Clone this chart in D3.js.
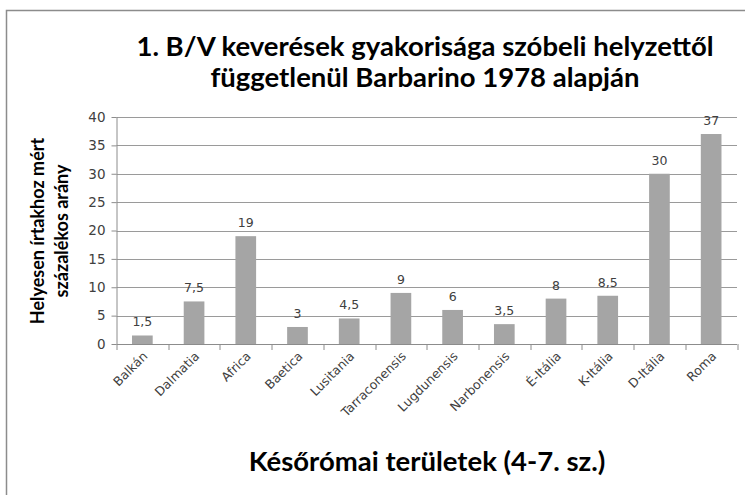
<!DOCTYPE html>
<html>
<head>
<meta charset="utf-8">
<script src="https://cdn.jsdelivr.net/npm/d3@7"></script>
<style>
  body { margin: 0; background: #fff; }
  svg { display: block; }
</style>
</head>
<body>
<script>
var width = 745;
var height = 495;

// adatok
var regions = ["Balkán", "Dalmatia", "Africa", "Baetica", "Lusitania", "Tarraconensis",
  "Lugdunensis", "Narbonensis", "É-Itália", "K-Itália", "D-Itália", "Roma"];
var values = [1.5, 7.5, 19, 3, 4.5, 9, 6, 3.5, 8, 8.5, 30, 37];
var yTicks = [0, 5, 10, 15, 20, 25, 30, 35, 40];
var titleLines = ["1. B/V keverések gyakorisága szóbeli helyzettől", "függetlenül Barbarino 1978 alapján"];
var yTitleLines = ["Helyesen írtakhoz mért", "százalékos arány"];
var xTitle = "Későrómai területek (4-7. sz.)";

var svg = d3.select("body").append("svg")
  .attr("width", width)
  .attr("height", height);

// keret
svg.append("rect")
  .attr("x", 6.5).attr("y", 10.5)
  .attr("width", 760).attr("height", 500)
  .attr("fill", "#fff")
  .attr("stroke", "#8c8c8c")
  .attr("stroke-width", 1.5);

var plotMargins = { top: 117, left: 116.5, right: 8, bottom: 151 };
var plotWidth = width - plotMargins.left - plotMargins.right;
var plotHeight = height - plotMargins.top - plotMargins.bottom;

var plotGroup = svg.append("g")
  .attr("transform", "translate(" + plotMargins.left + "," + plotMargins.top + ")");

var xScale = d3.scaleBand().domain(regions).range([0, plotWidth]).paddingInner(0).paddingOuter(0);
var yScale = d3.scaleLinear().domain([0, 40]).range([plotHeight, 0]);

// rácsvonalak
plotGroup.append("g")
  .selectAll("line")
  .data(yTicks.filter(function (d) { return d > 0; }))
  .join("line")
  .attr("x1", 0).attr("x2", plotWidth)
  .attr("y1", function (d) { return Math.round(yScale(d)) + 0.5; })
  .attr("y2", function (d) { return Math.round(yScale(d)) + 0.5; })
  .attr("stroke", "#9a9a9a");

// oszlopok
var barW = xScale.bandwidth() / 2.5;
plotGroup.append("g")
  .selectAll("rect")
  .data(values)
  .join("rect")
  .attr("x", function (d, i) { return xScale(regions[i]) + (xScale.bandwidth() - barW) / 2; })
  .attr("y", function (d) { return yScale(d); })
  .attr("width", barW)
  .attr("height", function (d) { return plotHeight - yScale(d); })
  .attr("fill", "#a5a5a5");

// értékcímkék
plotGroup.append("g")
  .selectAll("text")
  .data(values)
  .join("text")
  .attr("x", function (d, i) { return xScale(regions[i]) + xScale.bandwidth() / 2; })
  .attr("y", function (d) { return yScale(d) - 9; })
  .attr("text-anchor", "middle")
  .attr("font-family", "'DejaVu Sans', sans-serif")
  .attr("font-size", 12.5)
  .attr("fill", "#404040")
  .text(function (d) { return String(d).replace(".", ","); });

// y tengely
var yAxis = d3.axisLeft(yScale).tickValues(yTicks).tickSize(5).tickPadding(6);
var yAxisGroup = plotGroup.append("g").call(yAxis);
yAxisGroup.select(".domain").attr("stroke", "#8c8c8c").attr("d", "M0.5," + plotHeight + "V0");
yAxisGroup.selectAll(".tick line").attr("stroke", "#8c8c8c");
yAxisGroup.selectAll(".tick text")
  .attr("font-family", "'DejaVu Sans', sans-serif")
  .attr("font-size", 13.5)
  .attr("fill", "#404040");

// x tengely
var xAxis = d3.axisBottom(xScale).tickSize(0).tickPadding(0);
var xAxisGroup = plotGroup.append("g")
  .attr("transform", "translate(0," + plotHeight + ")")
  .call(xAxis);
xAxisGroup.select(".domain").attr("stroke", "#8c8c8c").attr("d", "M0,0.5H" + plotWidth);
xAxisGroup.selectAll(".tick text")
  .attr("font-family", "'DejaVu Sans', sans-serif")
  .attr("font-size", 12.5)
  .attr("fill", "#404040")
  .attr("text-anchor", "end")
  .attr("dy", null)
  .attr("transform", "translate(6,13) rotate(-45)");
// kategóriák közötti osztásjelek
xAxisGroup.append("g")
  .selectAll("line")
  .data(d3.range(regions.length + 1))
  .join("line")
  .attr("x1", function (i) { return Math.round(i * xScale.step()) + 0.5; })
  .attr("x2", function (i) { return Math.round(i * xScale.step()) + 0.5; })
  .attr("y1", 0).attr("y2", 6)
  .attr("stroke", "#8c8c8c");

// cím
var title = svg.append("text")
  .attr("x", 425)
  .attr("text-anchor", "middle")
  .attr("font-family", "Lato, 'Open Sans', sans-serif")
  .attr("font-weight", "bold")
  .attr("font-size", 27.5)
  .attr("fill", "#000");
title.selectAll("tspan")
  .data(titleLines)
  .join("tspan")
  .attr("x", 425)
  .attr("y", function (d, i) { return 56 + i * 31; })
  .text(function (d) { return d; });

// y tengely címe
var yTitle = svg.append("text")
  .attr("transform", "translate(0,231) rotate(-90)")
  .attr("text-anchor", "middle")
  .attr("font-family", "Lato, 'Open Sans', sans-serif")
  .attr("font-weight", "bold")
  .attr("font-size", 18)
  .attr("fill", "#000");
yTitle.selectAll("tspan")
  .data(yTitleLines)
  .join("tspan")
  .attr("x", 0)
  .attr("y", function (d, i) { return 44 + i * 24; })
  .text(function (d) { return d; });

// x tengely címe
svg.append("text")
  .attr("x", 427)
  .attr("y", 471)
  .attr("text-anchor", "middle")
  .attr("font-family", "Lato, 'Open Sans', sans-serif")
  .attr("font-weight", "bold")
  .attr("font-size", 27.5)
  .attr("fill", "#000")
  .text(xTitle);
</script>
</body>
</html>
